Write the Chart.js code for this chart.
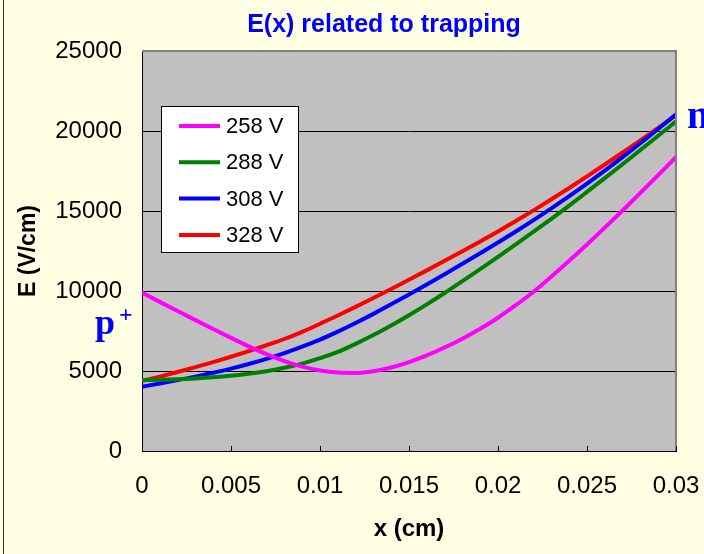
<!DOCTYPE html>
<html>
<head>
<meta charset="utf-8">
<script src="https://cdn.jsdelivr.net/npm/chart.js@4/dist/chart.umd.min.js"></script>
<style>
  body { margin: 0; background: #ffffe3; }
  canvas { display: block; }
</style>
</head>
<body>
<canvas id="fieldChart" width="704" height="554"></canvas>
<script>
// depth into the detector (cm)
const xCm = [0, 0.001, 0.002, 0.003, 0.004, 0.005, 0.006, 0.007, 0.008, 0.009,
  0.010, 0.011, 0.012, 0.013, 0.014, 0.015, 0.016, 0.017, 0.018, 0.019,
  0.020, 0.021, 0.022, 0.023, 0.024, 0.025, 0.026, 0.027, 0.028, 0.029, 0.030];

// field strength (V/cm) for each bias voltage
const e258 = [9900, 9320, 8750, 8180, 7620, 7070, 6540, 6050, 5620, 5270,
  5030, 4900, 4880, 4990, 5220, 5560, 5980, 6470, 7020, 7640,
  8330, 9110, 9950, 10900, 11890, 12910, 13960, 15035, 16130, 17245, 18375];
const e288 = [4440, 4455, 4485, 4535, 4605, 4700, 4825, 4990, 5200, 5465,
  5800, 6190, 6695, 7245, 7845, 8485, 9165, 9875, 10615, 11365,
  12130, 12910, 13705, 14515, 15340, 16190, 17050, 17925, 18810, 19700, 20600];
const e308 = [4020, 4220, 4430, 4650, 4890, 5150, 5440, 5760, 6120, 6520,
  6960, 7460, 8000, 8570, 9165, 9780, 10410, 11050, 11700, 12360,
  13030, 13720, 14430, 15165, 15925, 16715, 17530, 18370, 19235, 20125, 21040];
const e328 = [4375, 4650, 4940, 5240, 5555, 5890, 6240, 6610, 7000, 7450,
  7950, 8470, 9010, 9565, 10130, 10705, 11290, 11885, 12490, 13100,
  13720, 14370, 15040, 15730, 16440, 17165, 17905, 18655, 19415, 20200, 21000];

const seriesLabels = ['258 V', '288 V', '308 V', '328 V'];
const seriesColors = ['#ff00ff', '#008000', '#0000ff', '#ff0000'];
const yTicks = [0, 5000, 10000, 15000, 20000, 25000];
const xTicks = [0, 0.005, 0.01, 0.015, 0.02, 0.025, 0.03];

const toPoints = vals => xCm.map((x, i) => ({ x: x, y: vals[i] }));

const data = {
  datasets: [e258, e288, e308, e328].map((vals, i) => ({
    label: seriesLabels[i],
    data: toPoints(vals),
    borderColor: seriesColors[i],
    backgroundColor: seriesColors[i],
    borderWidth: 4,
    pointRadius: 0,
    cubicInterpolationMode: 'monotone',
    fill: false
  }))
};

// page background, grey plot area, frame, legend box and labels
const decor = {
  id: 'decor',
  beforeDraw(chart) {
    const { ctx, chartArea: a, width, height } = chart;
    ctx.save();
    ctx.fillStyle = '#ffffe3';
    ctx.fillRect(0, 0, width, height);
    ctx.strokeStyle = '#333';
    ctx.lineWidth = 1;
    ctx.beginPath();
    ctx.moveTo(3.5, 0);
    ctx.lineTo(3.5, height);
    ctx.stroke();
    ctx.fillStyle = '#c0c0c0';
    ctx.fillRect(a.left, a.top, a.right - a.left, a.bottom - a.top);
    ctx.restore();
  },
  afterDraw(chart) {
    const { ctx, chartArea: a } = chart;
    const xs = chart.scales.x;
    ctx.save();
    // top and right edge of the plot
    ctx.strokeStyle = '#808080';
    ctx.lineWidth = 2;
    ctx.beginPath();
    ctx.moveTo(a.left, a.top);
    ctx.lineTo(a.right, a.top);
    ctx.lineTo(a.right, a.bottom);
    ctx.stroke();
    // small tick marks on the x axis
    ctx.strokeStyle = '#000';
    ctx.lineWidth = 1;
    xTicks.forEach(v => {
      const px = Math.round(xs.getPixelForValue(v)) + 0.5;
      ctx.beginPath();
      ctx.moveTo(px, a.bottom);
      ctx.lineTo(px, a.bottom - 5);
      ctx.stroke();
    });

    // title
    ctx.fillStyle = '#0000ff';
    ctx.font = 'bold 25px "Liberation Sans", Arial, sans-serif';
    ctx.textAlign = 'center';
    ctx.textBaseline = 'middle';
    ctx.fillText('E(x) related to trapping', 384, 25);

    // legend
    const lx = a.left + 19, ly = a.top + 55, lw = 137, lh = 146;
    ctx.fillStyle = '#fff';
    ctx.fillRect(lx, ly, lw, lh);
    ctx.strokeStyle = '#000';
    ctx.lineWidth = 1;
    ctx.strokeRect(lx + 0.5, ly + 0.5, lw, lh);
    ctx.font = '22px "Liberation Sans", Arial, sans-serif';
    ctx.textAlign = 'left';
    ctx.textBaseline = 'middle';
    chart.data.datasets.forEach((ds, i) => {
      const ry = ly + 20 + i * 36.3;
      ctx.strokeStyle = ds.borderColor;
      ctx.lineWidth = 4;
      ctx.beginPath();
      ctx.moveTo(lx + 18, ry);
      ctx.lineTo(lx + 59, ry);
      ctx.stroke();
      ctx.fillStyle = '#000';
      ctx.fillText(ds.label, lx + 65, ry + 1);
    });

    // junction side labels
    ctx.fillStyle = '#0000ff';
    ctx.textBaseline = 'alphabetic';
    ctx.font = 'bold 36px "Liberation Serif", "Times New Roman", serif';
    ctx.fillText('p', 95, 334);
    ctx.font = 'bold 24px "Liberation Serif", "Times New Roman", serif';
    ctx.fillText('+', 119, 322);
    ctx.font = 'bold 40px "Liberation Serif", "Times New Roman", serif';
    ctx.fillText('n', 687, 128);
    ctx.restore();
  }
};

const config = {
  type: 'line',
  data: data,
  options: {
    responsive: false,
    animation: false,
    layout: { padding: { top: 51, right: 28, left: 0, bottom: 0 } },
    plugins: {
      legend: { display: false },
      tooltip: { enabled: false }
    },
    scales: {
      x: {
        type: 'linear',
        min: 0,
        max: 0.03,
        afterFit: s => { s.height = 103; s.paddingRight = 0; s.paddingLeft = 0; },
        afterBuildTicks: s => { s.ticks = xTicks.map(v => ({ value: v })); },
        grid: { display: false, drawTicks: false },
        border: { display: true, color: '#000', width: 1 },
        ticks: {
          padding: 21,
          color: '#000',
          font: { family: '"Liberation Sans", Arial, sans-serif', size: 24 },
          callback: v => String(+v.toFixed(3)),
          maxRotation: 0,
          autoSkip: false
        },
        title: {
          display: true,
          text: 'x (cm)',
          color: '#000',
          padding: { top: 0, bottom: 10 },
          font: { family: '"Liberation Sans", Arial, sans-serif', size: 24, weight: 'bold' }
        }
      },
      y: {
        min: 0,
        max: 25000,
        afterFit: s => { s.width = 142; s.paddingTop = 0; s.paddingBottom = 0; },
        afterBuildTicks: s => { s.ticks = yTicks.map(v => ({ value: v })); },
        grid: { color: '#000', lineWidth: 1, drawTicks: false },
        border: { display: true, color: '#000', width: 1 },
        ticks: {
          padding: 20,
          color: '#000',
          font: { family: '"Liberation Sans", Arial, sans-serif', size: 24 },
          callback: v => String(v)
        },
        title: {
          display: true,
          text: 'E (V/cm)',
          color: '#000',
          padding: { top: 15, bottom: 0 },
          font: { family: '"Liberation Sans", Arial, sans-serif', size: 23, weight: 'bold' }
        }
      }
    }
  },
  plugins: [decor]
};

const fieldChart = new Chart(document.getElementById('fieldChart'), config);
</script>
</body>
</html>
